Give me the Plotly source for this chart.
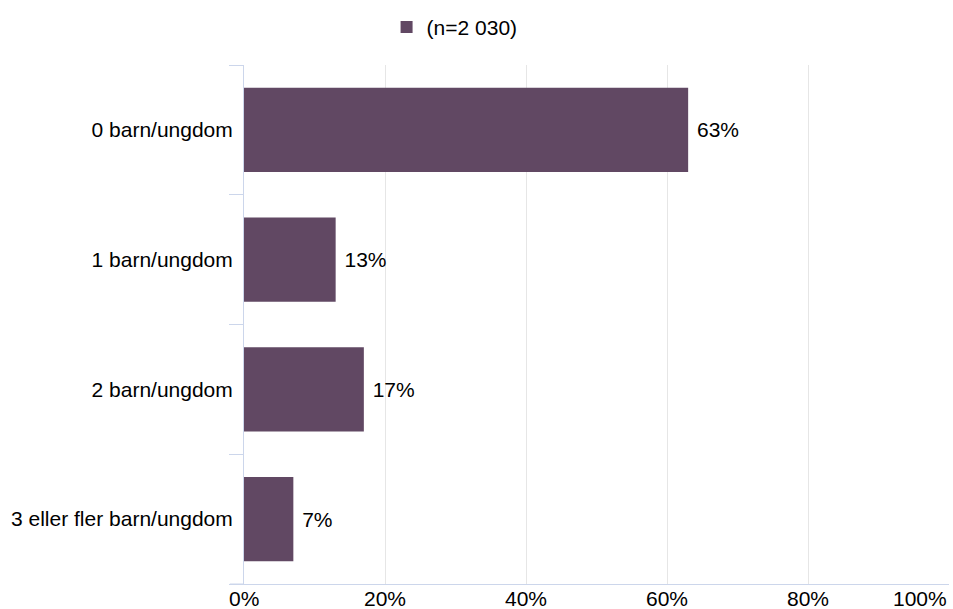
import plotly.graph_objects as go

categories = ["0 barn/ungdom", "1 barn/ungdom", "2 barn/ungdom", "3 eller fler barn/ungdom"]
values = [63, 13, 17, 7]
series_name = "(n=2 030)"
x_ticks = [0, 20, 40, 60, 80, 100]
x_tick_labels = ["0%", "20%", "40%", "60%", "80%", "100%"]

BAR = "#614863"
GRID = "#e6e6e6"
AXIS = "#ccd6eb"
FONT = "Liberation Sans, Arial, sans-serif"
FS = 21

fig = go.Figure()
fig.add_trace(go.Bar(
    y=categories, x=values, orientation="h", name=series_name,
    marker=dict(color=BAR, line=dict(width=0)),
    text=[f"{v}%" for v in values], texttemplate=" %{text}",
    textposition="outside", cliponaxis=False,
    textfont=dict(size=FS, color="#000000", family=FONT),
    showlegend=True,
))

annotations = []
for v, t in zip(x_ticks, x_tick_labels):
    annotations.append(dict(
        x=v, xref="x", y=0, yref="paper", yanchor="top", yshift=-1,
        xanchor="right" if v == x_ticks[-1] else "center",
        text=t, showarrow=False,
        font=dict(size=FS, color="#000000", family=FONT),
    ))

fig.update_layout(
    width=953, height=609,
    margin=dict(l=244, r=4, t=65, b=25),
    paper_bgcolor="white", plot_bgcolor="white",
    font=dict(family=FONT, size=FS, color="#000000"),
    bargap=0.35,
    showlegend=True,
    legend=dict(orientation="h", xref="container", yref="container",
                x=0.477, xanchor="center", y=0.955, yanchor="middle",
                font=dict(size=FS, color="#000000", family=FONT),
                itemclick=False),
    xaxis=dict(range=[0, 100], tickvals=x_ticks, showticklabels=False,
               showgrid=True, gridcolor=GRID, gridwidth=1,
               zeroline=False, showline=True, linecolor=AXIS, linewidth=1,
               ticks=""),
    yaxis=dict(categoryorder="array", categoryarray=categories[::-1],
               showgrid=False, zeroline=False, showline=True, linecolor=AXIS, linewidth=1,
               ticks="outside", tickson="boundaries", ticklen=14, tickcolor=AXIS, tickwidth=1,
               ticklabelstandoff=6,
               tickfont=dict(size=FS, color="#000000", family=FONT)),
    annotations=annotations,
    shapes=[dict(type="line", xref="paper", yref="paper", x0=-0.02, x1=0, y0=0, y1=0,
                 line=dict(color=AXIS, width=1))],
)

fig.write_html("out.html", config={"displayModeBar": False},
               post_script="document.body.style.margin='0px';document.body.style.overflow='hidden';")
